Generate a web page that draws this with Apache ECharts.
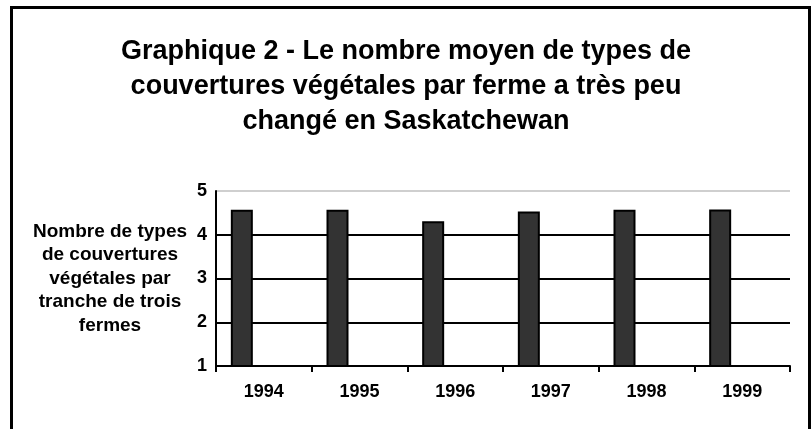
<!DOCTYPE html>
<html>
<head>
<meta charset="utf-8">
<script src="https://cdn.jsdelivr.net/npm/echarts@6/dist/echarts.min.js"></script>
<style>
html,body{margin:0;padding:0;background:#fff;}
#chart{width:812px;height:429px;}
</style>
</head>
<body>
<div id="chart"></div>
<script>
var titleText = "Graphique 2 - Le nombre moyen de types de\ncouvertures végétales par ferme a très peu\nchangé en Saskatchewan";
var yAxisTitle = "Nombre de types\nde couvertures\nvégétales par\ntranche de trois\nfermes";
var years = ["1994", "1995", "1996", "1997", "1998", "1999"];
var values = [4.57, 4.57, 4.31, 4.53, 4.57, 4.58];
var emptyValues = [null, null, null, null, null, null];

var FONT = "'Liberation Sans', Arial, sans-serif";
var chart = echarts.init(document.getElementById('chart'), null, {renderer: 'canvas'});
chart.setOption({
  animation: false,
  backgroundColor: '#fff',
  graphic: [{
    type: 'rect',
    shape: {x: 11.5, y: 7.5, width: 798, height: 440},
    style: {fill: 'none', stroke: '#000', lineWidth: 3},
    silent: true
  }],
  title: {
    text: titleText,
    left: 'center',
    top: 29,
    textStyle: {fontFamily: FONT, fontWeight: 'bold', fontSize: 27, lineHeight: 35, color: '#000', align: 'center'}
  },
  grid: {left: 216, top: 191, right: 22, bottom: 63, containLabel: false},
  xAxis: {
    type: 'category',
    data: years,
    boundaryGap: true,
    axisLine: {lineStyle: {color: '#000', width: 2}},
    axisTick: {show: true, length: 6, lineStyle: {color: '#000', width: 2}},
    axisLabel: {fontFamily: FONT, fontWeight: 'bold', fontSize: 18, color: '#000', margin: 17}
  },
  yAxis: {
    type: 'value',
    min: 1, max: 5, interval: 1,
    name: yAxisTitle,
    nameLocation: 'middle',
    nameRotate: 0,
    nameGap: 106,
    nameTextStyle: {fontFamily: FONT, fontWeight: 'bold', fontSize: 19, lineHeight: 23.5, color: '#000', align: 'center', verticalAlign: 'middle'},
    axisLine: {show: true, lineStyle: {color: '#000', width: 2}},
    axisTick: {show: false},
    axisLabel: {fontFamily: FONT, fontWeight: 'bold', fontSize: 18, color: '#000', margin: 9},
    splitLine: {show: true, lineStyle: {color: ['#000', '#000', '#000', '#000', '#cfcfcf'], width: 2}}
  },
  series: [
    {type: 'bar', data: values, barWidth: 22, barGap: '0%',
     itemStyle: {color: '#333333', borderColor: '#000', borderWidth: 2}},
    {type: 'bar', data: emptyValues, barWidth: 22, barGap: '0%'},
    {type: 'bar', data: emptyValues, barWidth: 22, barGap: '0%'}
  ]
});
</script>
</body>
</html>
